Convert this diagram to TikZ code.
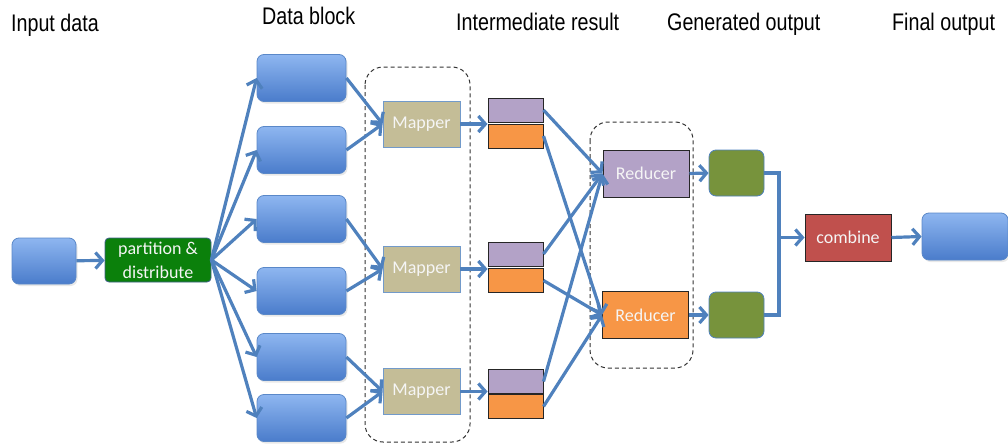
\documentclass[tikz,border=0pt]{standalone}
\usepackage{fontspec}
\setmainfont{Liberation Sans}
\newfontfamily\headfont[FakeStretch=0.82]{Liberation Sans}
\newfontfamily\boxfont{Carlito}
\usetikzlibrary{arrows.meta,shadows}

\definecolor{flow}{HTML}{4F81BD}
\definecolor{blocktop}{HTML}{8EB6F0}
\definecolor{blockbot}{HTML}{4A7CCB}
\definecolor{blockedge}{HTML}{5A88C8}
\definecolor{mapfill}{HTML}{C4BD97}
\definecolor{lilac}{HTML}{B3A2C7}
\definecolor{amber}{HTML}{F79646}
\definecolor{olive}{HTML}{77933C}
\definecolor{brick}{HTML}{C0504D}
\definecolor{splitgreen}{HTML}{0B800B}
\definecolor{groupline}{HTML}{333333}

\tikzset{
  head/.style={font=\headfont\fontsize{24}{28}\selectfont, anchor=base west, inner sep=0pt},
  datablock/.style={rounded corners=7pt, draw=blockedge, line width=0.8pt,
    top color=blocktop, bottom color=blockbot, minimum width=89pt, minimum height=47pt,
    drop shadow={shadow xshift=1.5pt, shadow yshift=-2pt, opacity=0.18}},
  boxtext/.style={font=\boxfont\fontsize{18}{24}\selectfont, text=white!96!black, inner sep=0pt},
  mapbox/.style={boxtext, fill=mapfill, draw=flow!80, line width=0.8pt,
    minimum width=77pt, minimum height=46pt},
  slot/.style={draw=black!85, line width=1pt, minimum width=55pt, minimum height=24pt, inner sep=0pt},
  redbox/.style={boxtext, draw=black!85, line width=1pt, minimum width=86pt, minimum height=47pt},
  genbox/.style={fill=olive, draw=flow, line width=0.8pt, rounded corners=7pt,
    minimum width=55pt, minimum height=46pt},
  group/.style={draw=groupline, line width=1pt, dash pattern=on 4pt off 3pt, rounded corners=18pt},
  flowline/.style={draw=flow, line width=3.2pt},
  flowarrow/.style={flowline, -{Straight Barb[length=7pt,width=16pt]}},
}

\begin{document}
\begin{tikzpicture}[x=1pt,y=-1pt]
\useasboundingbox (0,0) rectangle (1008,444);

% column headings
\node[head] (h1) at (11,32) {Input data};
\node[head] (h2) at (262,25) {Data block};
\node[head] (h3) at (456,31) {Intermediate result};
\node[head] (h4) at (667,31) {Generated output};
\node[head] (h5) at (892,31) {Final output};

% dashed groups around mappers and reducers
\draw[group] (365,67) rectangle (470,442);
\draw[group] (590,122) rectangle (693,368);

% input and split step
\node[datablock, minimum width=64pt, minimum height=46pt] (in) at (44,261) {};
\node[boxtext, fill=splitgreen, draw=blockedge!70!black, line width=0.8pt, rounded corners=4pt,
      minimum width=106pt, minimum height=44pt, align=center] (split) at (158,260)
      {partition \&\\distribute};

% data blocks
\node[datablock] (d1) at (301.5,78) {};
\node[datablock] (d2) at (301.5,150) {};
\node[datablock] (d3) at (301.5,219) {};
\node[datablock] (d4) at (301.5,291) {};
\node[datablock] (d5) at (301.5,357) {};
\node[datablock] (d6) at (301.5,418) {};

% mappers
\node[mapbox] (m1) at (421.5,124) {Mapper};
\node[mapbox] (m2) at (421.5,269) {Mapper};
\node[mapbox] (m3) at (421.5,391.5) {Mapper};

% intermediate key groups
\node[slot, fill=lilac] (p1) at (515.5,110) {};
\node[slot, fill=amber] (o1) at (515.5,136) {};
\node[slot, fill=lilac] (p2) at (515.5,254) {};
\node[slot, fill=amber] (o2) at (515.5,280.5) {};
\node[slot, fill=lilac] (p3) at (515.5,381.5) {};
\node[slot, fill=amber] (o3) at (515.5,406.5) {};

% reducers
\node[redbox, fill=lilac] (r1) at (646,173.5) {Reducer};
\node[redbox, fill=amber] (r2) at (645.5,315) {Reducer};

% generated outputs, combine, final output
\node[genbox] (g1) at (736.5,173) {};
\node[genbox] (g2) at (736.5,315) {};
\node[redbox, fill=brick] (comb) at (848,237.5) {combine};
\node[datablock, minimum width=86pt] (out) at (965,236.5) {};

% connectors
\draw[flowarrow] (in) -- (split);
\foreach \d in {d1,d2,d3,d4,d5,d6}
  \draw[flowarrow] (split.east) -- (\d.west);
\draw[flowarrow] (d1.east) -- (m1.west);
\draw[flowarrow] (d2.east) -- (m1.west);
\draw[flowarrow] (d3.east) -- (m2.west);
\draw[flowarrow] (d4.east) -- (m2.west);
\draw[flowarrow] (d5.east) -- (m3.west);
\draw[flowarrow] (d6.east) -- (m3.west);
\draw[flowarrow] (m1.east) -- (m1.east -| p1.west);
\draw[flowarrow] (m2.east) -- (m2.east -| p2.west);
\draw[flowarrow] (m3.east) -- (m3.east -| p3.west);
\foreach \p in {p1,p2,p3}
  \draw[flowarrow] (\p.east) -- (r1.west);
\foreach \o in {o1,o2,o3}
  \draw[flowarrow] (\o.east) -- (r2.west);
\draw[flowarrow] (r1.east) -- (g1.west);
\draw[flowarrow] (r2.east) -- (g2.west);
\coordinate (jt) at (779,173);
\coordinate (jb) at (779,315);
\coordinate (jm) at (779,237.5);
\draw[flowline, line join=miter] (g1.east) -- (jt) -- (jb) -- (g2.east);
\draw[flowarrow] (jm) -- (comb.west);
\draw[flowarrow] (comb.east) -- (out.west);
\end{tikzpicture}
\end{document}
